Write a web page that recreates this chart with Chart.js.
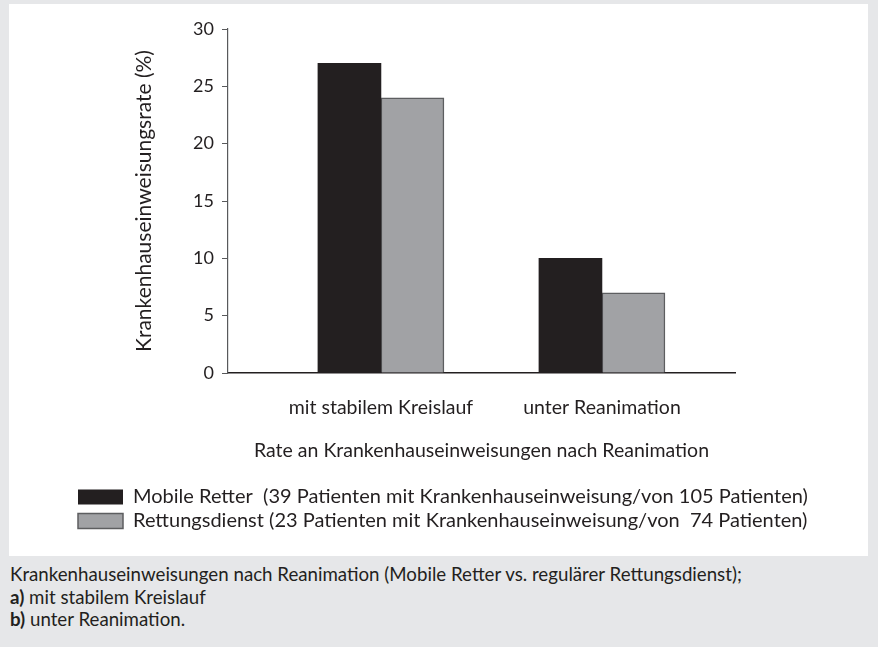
<!DOCTYPE html>
<html>
<head>
<meta charset="utf-8">
<script src="https://cdn.jsdelivr.net/npm/chart.js@4"></script>
<style>
  body { margin: 0; background: #e6e7e9; font-family: Lato, sans-serif; }
  #panel { position: absolute; left: 9px; top: 4px; width: 859px; height: 552px; background: #fff; }
  #caption { position: absolute; left: 10px; top: 563px; font-size: 18.7px; line-height: 22.5px; color: #231f20; }
</style>
</head>
<body>
<div id="panel"><canvas id="chart" width="859" height="552"></canvas></div>
<div id="caption">
  Krankenhauseinweisungen nach Reanimation (Mobile Retter vs. regulärer Rettungsdienst);<br>
  <b>a)</b> mit stabilem Kreislauf<br>
  <b>b)</b> unter Reanimation.
</div>
<script>
// Werte
const categories = ['mit stabilem Kreislauf', 'unter Reanimation'];
const mobileRetter = [27, 10];
const rettungsdienst = [24, 7];
const seriesLabels = [
    'Mobile Retter  (39 Patienten mit Krankenhauseinweisung/von 105 Patienten)',
    'Rettungsdienst (23 Patienten mit Krankenhauseinweisung/von  74 Patienten)'
];
const yMin = 0, yMax = 30, yStep = 5;

const textColor = '#231f20';
const fontName = 'Lato';

var ctx = document.getElementById('chart').getContext('2d');
var chart = new Chart(ctx, {
    type: 'bar',
    data: {
        labels: categories,
        datasets: [{
            label: seriesLabels[0],
            data: mobileRetter,
            backgroundColor: '#231f20',
            borderWidth: 0,
            barThickness: 63
        }, {
            label: seriesLabels[1],
            data: rettungsdienst,
            backgroundColor: '#a1a2a5',
            borderColor: '#5d5e60',
            borderWidth: 1.5,
            borderSkipped: 'bottom',
            barThickness: 63
        }]
    },
    options: {
        responsive: false,
        animation: false,
        layout: { padding: { left: 65, right: 10, top: 25, bottom: 15 } },
        plugins: {
            tooltip: { enabled: false },
            legend: {
                position: 'bottom',
                align: 'start',
                labels: {
                    boxWidth: 45,
                    boxHeight: 15,
                    padding: 4,
                    color: textColor,
                    font: { family: fontName, size: 20 }
                }
            }
        },
        scales: {
            x: {
                grid: { display: false, drawTicks: false },
                border: { display: true, color: textColor, width: 1.5 },
                ticks: { color: textColor, padding: 23, font: { family: fontName, size: 19.5 } },
                title: {
                    display: true,
                    text: 'Rate an Krankenhauseinweisungen nach Reanimation',
                    color: textColor,
                    font: { family: fontName, size: 19.5 },
                    padding: { top: 0, bottom: 21 }
                },
                // Gruppen sitzen nicht mittig in der Achse wie in der Vorlage
                afterBuildTicks: function (scale) {
                    scale._startValue = -0.692;
                    scale._valueRange = 2.294;
                },
                afterFit: function (scale) {
                    scale.height = 110;
                }
            },
            y: {
                min: yMin,
                max: yMax,
                ticks: { stepSize: yStep, color: textColor, padding: 8, font: { family: fontName, size: 18 } },
                grid: { drawOnChartArea: false, drawTicks: true, tickLength: 6, color: '#58595b' },
                border: { display: true, color: '#58595b', width: 1.2 },
                title: {
                    display: true,
                    text: 'Krankenhauseinweisungsrate (%)',
                    color: textColor,
                    font: { family: fontName, size: 21 },
                    padding: { top: 58, bottom: 0 }
                },
                afterFit: function (scale) {
                    scale.width = 154;
                }
            },
            // leerer Rand rechts, damit die Legende die volle Breite behaelt
            rand: {
                position: 'right',
                grid: { display: false },
                border: { display: false },
                ticks: { display: false },
                afterFit: function (scale) {
                    scale.width = 123;
                }
            }
        }
    }
});
</script>
</body>
</html>
